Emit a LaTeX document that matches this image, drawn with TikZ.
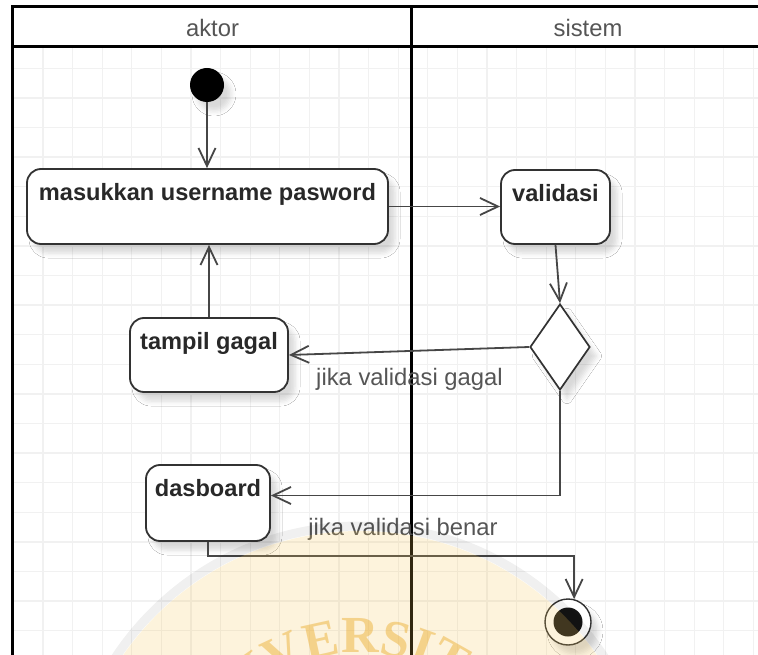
\documentclass[tikz,border=0pt]{standalone}
\usepackage{fontspec}
\setmainfont{Liberation Sans}
\newfontfamily\sealfont{Liberation Serif}
\usetikzlibrary{shapes.geometric,arrows.meta,shadows.blur,decorations.text}

\definecolor{gridline}{RGB}{241,241,241}
\definecolor{inkdark}{RGB}{40,40,40}
\definecolor{inkgray}{RGB}{85,85,85}
\definecolor{boxedge}{RGB}{50,50,50}
\definecolor{flowline}{RGB}{70,70,70}
\definecolor{sealdisc}{RGB}{245,195,80}
\definecolor{sealtext}{RGB}{235,170,40}

\tikzset{
  softshadow/.style={blur shadow={shadow xshift=7pt, shadow yshift=-9pt,
      shadow blur radius=5pt, shadow opacity=15}},
  action/.style={draw=boxedge, line width=1.8pt, rounded corners=14pt,
      fill=white, inner sep=0pt, softshadow},
  actlabel/.style={font=\fontsize{23.6}{28}\selectfont\bfseries, text=inkdark,
      inner sep=0pt, anchor=base, yshift=-32pt},
  decision/.style={diamond, draw=boxedge, line width=1.7pt, fill=white,
      inner sep=0pt, softshadow},
  startdot/.style={circle, fill=black, inner sep=0pt, minimum size=34pt, softshadow},
  enddot/.style={circle, draw=boxedge, line width=1.4pt, fill=white, inner sep=0pt,
      minimum size=46pt, softshadow,
      path picture={\fill[black!92] (path picture bounding box.center) circle[radius=14.5pt];}},
  flow/.style={draw=flowline, line width=1.8pt,
      -{Straight Barb[length=18pt,width=17pt,line width=1.8pt]}},
  guard/.style={font=\fontsize{23.8}{28}\selectfont, text=inkgray, inner sep=0pt, anchor=base},
  lanehead/.style={font=\fontsize{23.8}{28}\selectfont, text=inkgray, inner sep=0pt, anchor=base},
  laneline/.style={line width=3pt, black},
  gridrule/.style={draw=gridline, line width=1.3pt},
}

\begin{document}
\begin{tikzpicture}[x=1pt,y=-1pt]
\useasboundingbox (0,0) rectangle (758,655);
\clip (0,0) rectangle (758,655);
\fill[white] (0,0) rectangle (758,655);

% background grid
\foreach \i in {1,...,25} \draw[gridrule] ({13.4+29.6*\i},46) -- ({13.4+29.6*\i},660);
\foreach \j in {1,...,21} \draw[gridrule] (13,{38.7+29.6*\j}) -- (762,{38.7+29.6*\j});

% swimlane frame and headers
\fill[white] (12.5,7) rectangle (762,46.3);
\draw[laneline] (12.5,662) -- (12.5,7) -- (762,7);
\draw[laneline] (12.5,46.3) -- (762,46.3);
\draw[laneline] (411.5,7) -- (411.5,662);
\node[lanehead] (laneA) at (212.5,37) {aktor};
\node[lanehead] (laneS) at (588,37) {sistem};

% activity nodes
\node[startdot] (start) at (207,85) {};
\node[action, minimum width=361pt, minimum height=75pt,
      label={[actlabel]north:masukkan username pasword}] (login) at (207.5,206.5) {};
\node[action, minimum width=109pt, minimum height=74pt,
      label={[actlabel]north:validasi}] (check) at (555.5,207) {};
\node[decision, minimum width=60pt, minimum height=86pt] (decide) at (560,347) {};
\node[action, minimum width=158pt, minimum height=74pt,
      label={[actlabel]north:tampil gagal}] (fail) at (209,355) {};
\node[action, minimum width=124pt, minimum height=76pt,
      label={[actlabel]north:dasboard}] (dash) at (208,503) {};
\node[enddot] (finish) at (568,622) {};

% guard texts
\node[guard] (gFail) at (409.5,385) {jika validasi gagal};
\node[guard] (gOk) at (403,535) {jika validasi benar};

% control flows
\draw[flow] (start) -- (start |- login.north);
\draw[flow] (login.east) -- (login.east -| check.west);
\draw[flow] (check.south) -- (decide.north);
\draw[flow] (decide.west) -- (fail.east);
\draw[flow] (fail.north) -- (fail.north |- login.south);
\draw[flow] (decide.south) |- ([yshift=7.5pt]dash.east);
\draw[flow] (dash.south) -- ++(0,14) -| (finish.75);

% faint seal in the lower part
\begin{scope}[shift={(360,819)}]
  \fill[sealdisc, opacity=0.2] (0pt,0pt) circle[radius=288pt];
  \draw[black, opacity=0.06, line width=9pt] (0pt,0pt) circle[radius=293pt];
  \begin{scope}[opacity=0.45]
    \path[decorate, decoration={text along path, text align=center, text color=sealtext,
        text={|\sealfont\bfseries\fontsize{52}{52}\selectfont|UNIVERSITAS}}]
      (178:166pt) arc[start angle=178, end angle=8, radius=166pt];
  \end{scope}
\end{scope}
\end{tikzpicture}
\end{document}
